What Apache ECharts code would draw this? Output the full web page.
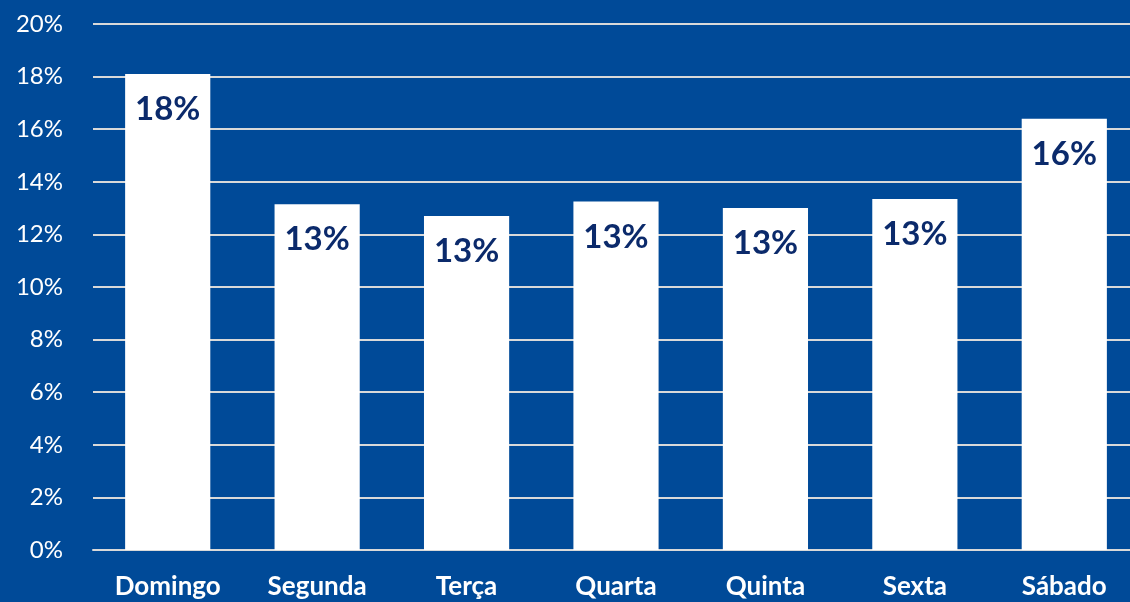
<!DOCTYPE html>
<html><head><meta charset="utf-8">
<script src="https://cdn.jsdelivr.net/npm/echarts@6/dist/echarts.min.js"></script>
<style>html,body{margin:0;padding:0;background:#004A98;overflow:hidden;}#c{width:1139px;height:602px;}</style>
</head><body><div id="c"></div>
<script>
const categories = ['Domingo','Segunda','Terça','Quarta','Quinta','Sexta','Sábado'];
const values = [18.1, 13.15, 12.7, 13.25, 13.0, 13.35, 16.4];
const labels = ['18%','13%','13%','13%','13%','13%','16%'];
const chart = echarts.init(document.getElementById('c'));
chart.setOption({
  backgroundColor: '#004A98',
  animation: false,
  grid: {left: 93, right: 0, top: 24, bottom: 52, containLabel: false},
  xAxis: {
    type: 'category', data: categories,
    axisLine: {show: true, lineStyle: {color: '#d9d9d9', width: 2}},
    axisTick: {show: false},
    axisLabel: {color: '#ffffff', fontFamily: 'Lato', fontWeight: 'bold', fontSize: 26, margin: 24}
  },
  yAxis: {
    type: 'value', min: 0, max: 20, interval: 2,
    axisLine: {show: false}, axisTick: {show: false},
    splitLine: {lineStyle: {color: '#d9d9d9', width: 2}},
    axisLabel: {color: '#ffffff', fontFamily: 'Lato', fontSize: 24, margin: 30, formatter: '{value}%'}
  },
  series: [{
    type: 'bar', data: values, barWidth: '57%',
    itemStyle: {color: '#ffffff'},
    label: {show: true, position: 'insideTop', distance: 19,
      formatter: p => labels[p.dataIndex],
      color: '#0B2A6B', fontFamily: 'Lato', fontWeight: 'bold', fontSize: 33}
  }]
});
</script></body></html>
